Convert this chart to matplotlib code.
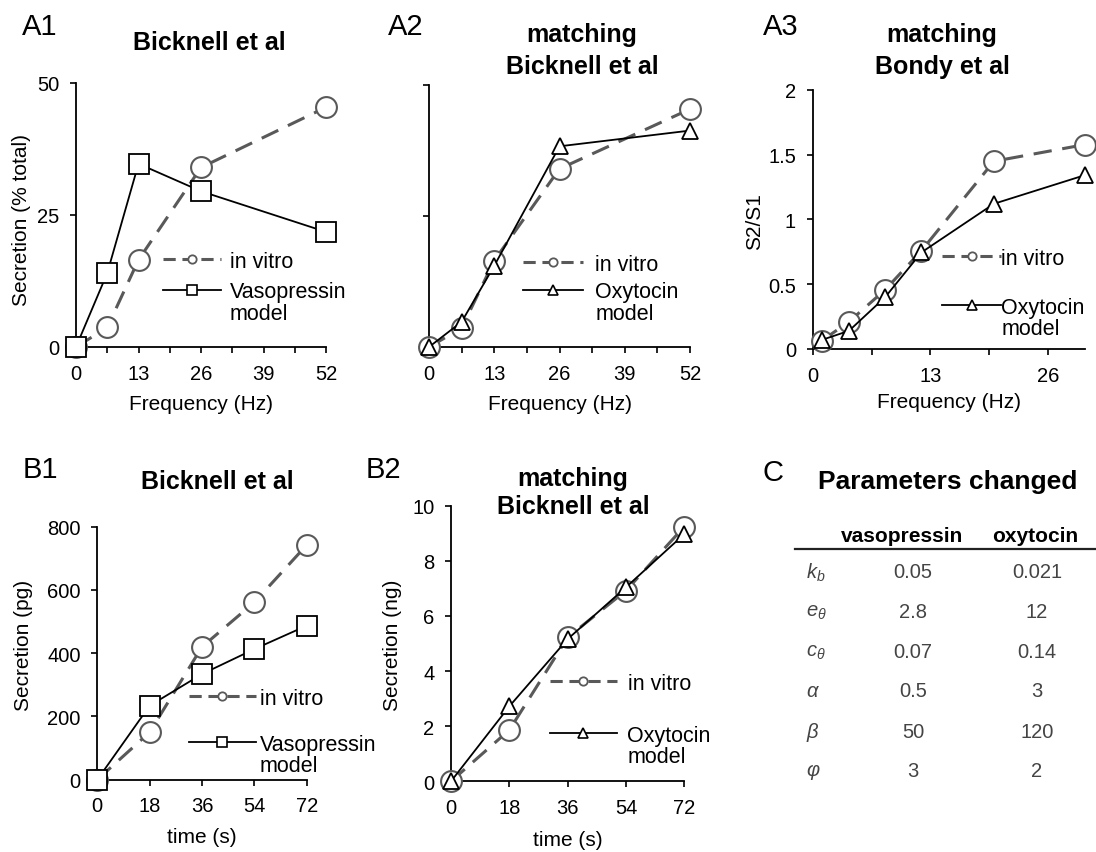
import matplotlib
matplotlib.use("Agg")
import matplotlib.pyplot as plt
from matplotlib.lines import Line2D

plt.rcParams['font.family'] = ['Liberation Sans', 'DejaVu Sans']
plt.rcParams['mathtext.fontset'] = 'custom'
plt.rcParams['mathtext.rm'] = 'Liberation Sans'
plt.rcParams['mathtext.it'] = 'Liberation Sans:italic'
plt.rcParams['mathtext.bf'] = 'Liberation Sans:bold'

# ---------------- data ----------------
freq_bicknell = [0, 6.5, 13, 26, 52]
a1_invitro = [0, 3.7, 16.5, 34.0, 45.4]
a1_vasopressin = [0, 14.0, 34.7, 29.5, 21.8]

a2_invitro = [0, 3.6, 16.5, 34.0, 45.4]
a2_oxytocin = [0, 4.8, 15.5, 38.3, 41.3]

freq_bondy = [1, 4, 8, 12, 20, 30]
a3_invitro = [0.064, 0.21, 0.457, 0.758, 1.448, 1.576]
a3_oxytocin = [0.07, 0.14, 0.40, 0.745, 1.12, 1.34]

time_s = [0, 18, 36, 54, 72]
b1_invitro = [0, 150, 420, 561, 742]
b1_vasopressin = [0, 234, 334, 413, 487]

b2_invitro = [0, 1.86, 5.22, 6.92, 9.24]
b2_oxytocin = [0, 2.72, 5.16, 7.04, 8.97]

param_labels = [r'$k_b$', r'$e_{\theta}$', r'$c_{\theta}$', r'$\alpha$', r'$\beta$', r'$\varphi$']
param_vasopressin = ['0.05', '2.8', '0.07', '0.5', '50', '3']
param_oxytocin = ['0.021', '12', '0.14', '3', '120', '2']

# ---------------- styling ----------------
W, H = 1096, 853
fig = plt.figure(figsize=(W / 100, H / 100), dpi=100)
fig.patch.set_facecolor('white')

GRAY = '#595959'
FS = 14.5      # tick labels
LFS = 15       # axis labels
LEGFS = 15.5   # legend text
DASH = (0, (6, 3.5))
LEGDASH = (0, (4, 2.2))


def add_axes(L, R, T, B):
    ax = fig.add_axes([L / W, 1 - B / H, (R - L) / W, (B - T) / H])
    for s in ('top', 'right'):
        ax.spines[s].set_visible(False)
    for s in ('left', 'bottom'):
        ax.spines[s].set_linewidth(1.3)
    ax.tick_params(direction='out', length=4, width=1.2, labelsize=FS, pad=8)
    ax.tick_params(which='minor', direction='out', length=4, width=1.2)
    ax.patch.set_alpha(0)
    ax._pxbox = (L, R, T, B)
    return ax


def ax_x(ax, px):
    L, R, T, B = ax._pxbox
    return (px - L) / (R - L)


def ax_y(ax, py):
    L, R, T, B = ax._pxbox
    return (B - py) / (B - T)


def ftext(x, y, s, **kw):
    return fig.text(x / W, 1 - y / H, s, **kw)


def plot_invitro(ax, x, y):
    ax.plot(x, y, color=GRAY, lw=2.2, ls=DASH, marker='o', ms=15, mfc='white',
            mec=GRAY, mew=1.5, clip_on=False, zorder=3)


def plot_model(ax, x, y, marker, ms):
    ax.plot(x, y, color='black', lw=1.3, marker=marker, ms=ms, mfc='white',
            mec='black', mew=1.3, clip_on=False, zorder=4)


def labels(ax, xlabel, xlab_y, ylabel, ylab_x, ylab_y):
    ax.set_xlabel(xlabel, fontsize=LFS, va='center')
    ax.xaxis.set_label_coords(0.5, ax_y(ax, xlab_y))
    ax.set_ylabel(ylabel, fontsize=LFS, va='center')
    ax.yaxis.set_label_coords(ax_x(ax, ylab_x), ax_y(ax, ylab_y))


def legend(ax, model_marker, model_ms, model_name, x, ytop, spacing, hl, pad):
    h1 = Line2D([], [], color=GRAY, lw=2.2, ls=LEGDASH, marker='o', ms=6,
                mfc='white', mec=GRAY, mew=1.3)
    h2 = Line2D([], [], color='black', lw=1.3, marker=model_marker, ms=model_ms,
                mfc='white', mec='black', mew=1.2)
    leg = ax.legend([h1, h2], ['in vitro', model_name], loc='upper left',
                    bbox_to_anchor=(x / W, 1 - ytop / H), bbox_transform=fig.transFigure,
                    frameon=False, borderpad=0, borderaxespad=0, handlelength=hl,
                    handletextpad=pad, labelspacing=spacing, fontsize=LEGFS)
    # second line of the model label, aligned under the legend text
    ax.annotate('model', xy=(0, 0), xycoords=leg.get_texts()[1], xytext=(0, -0.5),
                textcoords='offset points', ha='left', va='top', fontsize=LEGFS,
                zorder=10)
    return leg


# ---------------- A1 ----------------
a1 = add_axes(76, 326, 84, 348)
plot_invitro(a1, freq_bicknell, a1_invitro)
plot_model(a1, freq_bicknell, a1_vasopressin, 's', 14)
a1.set_xlim(0, 52)
a1.set_ylim(0, 50)
a1.set_xticks([0, 13, 26, 39, 52])
a1.set_xticks([6.5, 19.5, 32.5, 45.5], minor=True)
a1.set_yticks([0, 25, 50])
labels(a1, 'Frequency (Hz)', 405, 'Secretion (% total)', 22, 220)
legend(a1, 's', 7, 'Vasopressin', 163, 252, 0.44, 2.7, 0.4)

# ---------------- A2 ----------------
a2 = add_axes(429, 690, 86, 348)
plot_invitro(a2, freq_bicknell, a2_invitro)
plot_model(a2, freq_bicknell, a2_oxytocin, '^', 12)
a2.set_xlim(0, 52)
a2.set_ylim(0, 50)
a2.set_xticks([0, 13, 26, 39, 52])
a2.set_xticks([6.5, 19.5, 32.5, 45.5], minor=True)
a2.set_yticks([0, 25, 50])
a2.set_yticklabels([])
labels(a2, 'Frequency (Hz)', 405, '', 400, 220)
legend(a2, '^', 7, 'Oxytocin', 523, 255, 0.30, 2.8, 0.55)

# ---------------- A3 ----------------
a3 = add_axes(812.7, 1084.5, 90.7, 350)
plot_invitro(a3, freq_bondy, a3_invitro)
plot_model(a3, freq_bondy, a3_oxytocin, '^', 12)
a3.set_xlim(0, 30)
a3.set_ylim(0, 2)
a3.set_xticks([0, 13, 26])
a3.set_xticks([6.5, 19.5], minor=True)
a3.set_yticks([0, 0.5, 1, 1.5, 2])
a3.set_yticklabels(['0', '0.5', '1', '1.5', '2'])
labels(a3, 'Frequency (Hz)', 403, 'S2/S1', 755, 222)
legend(a3, '^', 7, 'Oxytocin', 942, 249, 1.28, 2.75, 0.0)

# ---------------- B1 ----------------
b1 = add_axes(97.3, 306.7, 527.7, 780.7)
plot_invitro(b1, time_s, b1_invitro)
plot_model(b1, time_s, b1_vasopressin, 's', 14)
b1.set_xlim(0, 72)
b1.set_ylim(0, 800)
b1.set_xticks(time_s)
b1.set_yticks([0, 200, 400, 600, 800])
labels(b1, 'time (s)', 838, 'Secretion (pg)', 23, 645)
legend(b1, 's', 7, 'Vasopressin', 189, 689, 1.14, 3.1, 0.2)

# ---------------- B2 ----------------
b2 = add_axes(451, 684.3, 506.7, 782.3)
plot_invitro(b2, time_s, b2_invitro)
plot_model(b2, time_s, b2_oxytocin, '^', 12)
b2.set_xlim(0, 72)
b2.set_ylim(0, 10)
b2.set_xticks(time_s)
b2.set_yticks([0, 2, 4, 6, 8, 10])
labels(b2, 'time (s)', 841, 'Secretion (ng)', 392, 645)
legend(b2, '^', 7, 'Oxytocin', 550, 674, 1.42, 3.1, 0.5)

# ---------------- titles and panel letters ----------------
TFS = 18
ftext(209, 43, 'Bicknell et al', fontsize=TFS, fontweight='bold', ha='center', va='center')
ftext(582, 51, 'matching\nBicknell et al', fontsize=TFS, fontweight='bold', ha='center',
      va='center', linespacing=1.38)
ftext(942, 51, 'matching\nBondy et al', fontsize=TFS, fontweight='bold', ha='center',
      va='center', linespacing=1.38)
ftext(217, 482, 'Bicknell et al', fontsize=TFS, fontweight='bold', ha='center', va='center')
ftext(573, 493, 'matching\nBicknell et al', fontsize=TFS, fontweight='bold', ha='center',
      va='center', linespacing=1.25)

PFS = 21
for lab, x, y in [('A1', 40, 27), ('A2', 406, 27), ('A3', 781, 27),
                  ('B1', 40, 470), ('B2', 383, 470), ('C', 773, 473)]:
    ftext(x, y, lab, fontsize=PFS, ha='center', va='center')

# ---------------- table C ----------------
ftext(948, 482, 'Parameters changed', fontsize=19, fontweight='bold', ha='center', va='center')
ftext(902, 537, 'vasopressin', fontsize=15, fontweight='bold', ha='center', va='center')
ftext(1035, 537, 'oxytocin', fontsize=15, fontweight='bold', ha='center', va='center')
fig.add_artist(Line2D([795 / W, 1095 / W], [1 - 550 / H, 1 - 550 / H], color='#222222',
                      lw=1.6, transform=fig.transFigure))
row_y = [573, 613, 653, 692, 732, 772]
TC = '#444444'
for lab, v, o, y in zip(param_labels, param_vasopressin, param_oxytocin, row_y):
    ftext(806, y, lab, fontsize=14.5, ha='left', va='center', color=TC)
    ftext(913, y, v, fontsize=14.5, ha='center', va='center', color=TC)
    ftext(1037, y, o, fontsize=14.5, ha='center', va='center', color=TC)

fig.savefig('out.png', dpi=100, facecolor='white')
